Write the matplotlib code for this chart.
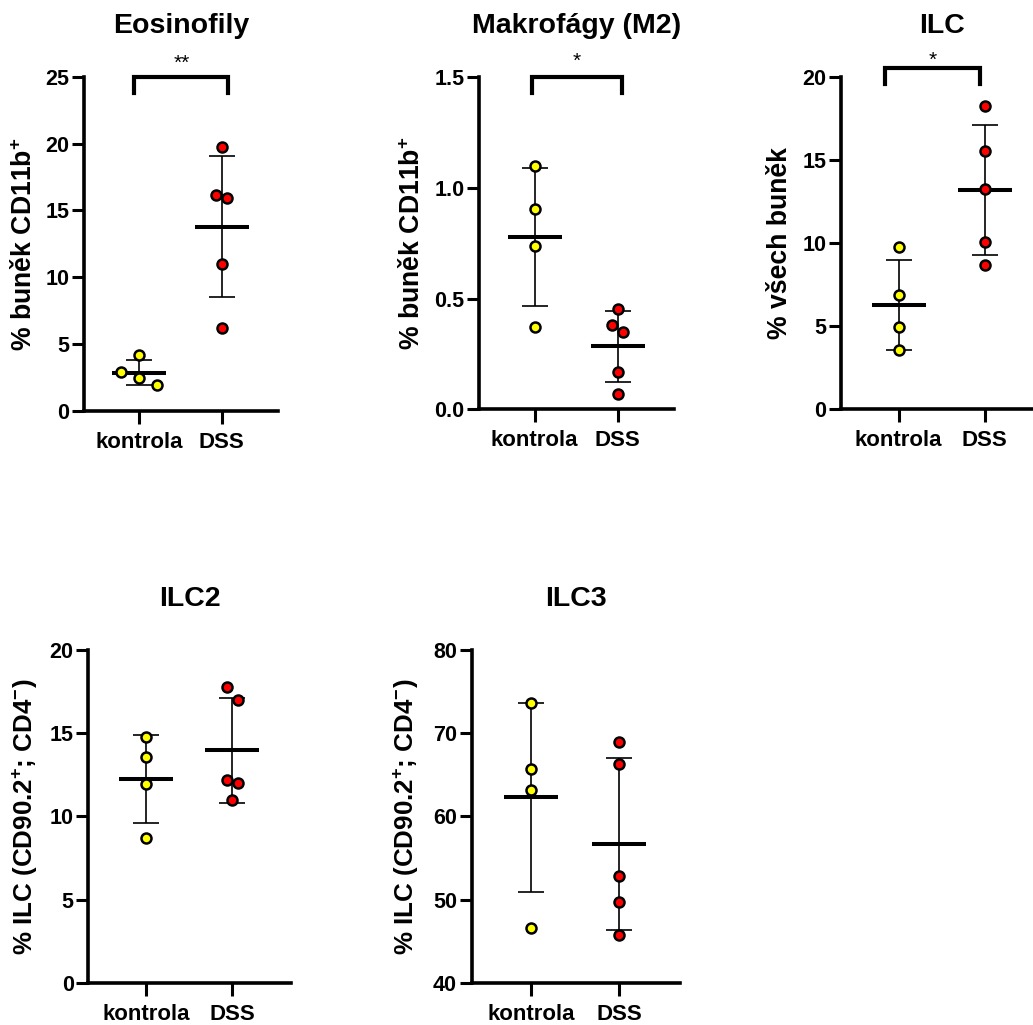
import numpy as np
import matplotlib
matplotlib.use("Agg")
import matplotlib.pyplot as plt

plt.rcParams['font.family'] = ['Liberation Sans', 'DejaVu Sans']
plt.rcParams['font.weight'] = 'bold'
plt.rcParams['mathtext.fontset'] = 'custom'
plt.rcParams['mathtext.rm'] = 'Liberation Sans:bold'
plt.rcParams['mathtext.bf'] = 'Liberation Sans:bold'
plt.rcParams['mathtext.it'] = 'Liberation Sans:bold'
plt.rcParams['mathtext.default'] = 'bf'

# ---------------- data ----------------
groups = ["kontrola", "DSS"]

eos_kontrola = [4.15, 2.87, 2.47, 1.92]
eos_dss = [19.75, 16.13, 15.96, 10.96, 6.17]

makro_kontrola = [1.098, 0.906, 0.737, 0.370]
makro_dss = [0.451, 0.381, 0.351, 0.167, 0.068]

ilc_kontrola = [9.79, 6.88, 4.93, 3.57]
ilc_dss = [18.25, 15.57, 13.26, 10.09, 8.69]

ilc2_kontrola = [14.79, 13.55, 11.94, 8.68]
ilc2_dss = [17.80, 16.99, 12.18, 11.98, 10.98]

ilc3_kontrola = [73.67, 65.69, 63.17, 46.61]
ilc3_dss = [68.98, 66.29, 52.83, 49.66, 45.73]

titles = ["Eosinofily", "Makrofágy (M2)", "ILC", "ILC2", "ILC3"]
ylabels = ["% buněk CD11b$^{+}$", "% buněk CD11b$^{+}$", "% všech buněk",
           "% ILC (CD90.2$^{+}$; CD4$^{-}$)", "% ILC (CD90.2$^{+}$; CD4$^{-}$)"]
yticks = [[0, 5, 10, 15, 20, 25], [0.0, 0.5, 1.0, 1.5], [0, 5, 10, 15, 20],
          [0, 5, 10, 15, 20], [40, 50, 60, 70, 80]]
ytick_labels = [["0", "5", "10", "15", "20", "25"], ["0.0", "0.5", "1.0", "1.5"],
                ["0", "5", "10", "15", "20"], ["0", "5", "10", "15", "20"],
                ["40", "50", "60", "70", "80"]]
significance = ["**", "*", "*", None, None]

# ---------------- styling / layout ----------------
W, H = 1033, 1025
# axes boxes in pixels: left, right, top, bottom
boxes = [(84, 278, 77, 410.7), (479, 674, 77, 409.3), (841, 1043, 77, 409.3),
         (88.3, 291, 650, 982.7), (471.7, 679.5, 650, 982.7)]
label_x_px = [59, 66, 61, 63, 65]
label_sizes = [19.2, 19.2, 19.2, 18.7, 18.7]
xlim = (-0.67, 1.68)
# horizontal jitter of individual points (style only)
jitter = [
    ([0, -0.22, 0, 0.22], [0, -0.07, 0.06, 0, 0]),
    ([0, 0, 0, 0], [0, -0.07, 0.06, 0, 0]),
    ([0, 0, 0, 0], [0, 0, 0, 0, 0]),
    ([0, 0, 0, 0], [-0.065, 0.06, -0.065, 0.06, 0]),
    ([0, 0, 0, 0], [0, 0, 0, 0, 0]),
]
# bracket geometry: x-left, x-right, y-top, y-bottom (data), star offset (pt)
brackets = [(-0.06, 1.08, 25.0, 23.8, 3), (-0.03, 1.05, 1.5, 1.43, 4.7),
            (-0.16, 0.95, 20.56, 19.6, -1.8), None, None]

datasets = [(eos_kontrola, eos_dss), (makro_kontrola, makro_dss),
            (ilc_kontrola, ilc_dss), (ilc2_kontrola, ilc2_dss),
            (ilc3_kontrola, ilc3_dss)]
colors = ["#FFFF00", "#FF0000"]

fig = plt.figure(figsize=(W / 100, H / 100), dpi=100)

for i in range(5):
    l, r, t, b = boxes[i]
    ax = fig.add_axes([l / W, 1 - b / H, (r - l) / W, (b - t) / H])
    ax.set_xlim(*xlim)
    ax.set_ylim(yticks[i][0], yticks[i][-1])
    for side in ("top", "right"):
        ax.spines[side].set_visible(False)
    for side in ("left", "bottom"):
        ax.spines[side].set_linewidth(2.6)
    ax.spines["bottom"].set_clip_on(False)

    for g, vals in enumerate(datasets[i]):
        vals = np.asarray(vals)
        m = vals.mean()
        sd = vals.std(ddof=1)
        ax.errorbar([g], [m], yerr=[sd], fmt='none', ecolor='black',
                    elinewidth=1.2, capsize=9.5, capthick=1.2, zorder=2)
        ax.plot([g], [m], marker='_', ms=39, mew=2.9, color='black', zorder=3)
        xs = g + np.asarray(jitter[i][g])
        ax.plot(xs, vals, 'o', ms=7.2, mfc=colors[g], mec='black', mew=1.8,
                zorder=4, clip_on=False)

    ax.set_xticks([0, 1])
    ax.set_xticklabels(groups, fontsize=16, fontweight='bold')
    ax.set_yticks(yticks[i])
    ax.set_yticklabels(ytick_labels[i], fontsize=15.5, fontweight='bold')
    ax.tick_params(axis='y', length=8.5, width=2.2, pad=2)
    ax.tick_params(axis='x', length=9, width=2.2, pad=6)
    ax.set_ylabel(ylabels[i], fontsize=label_sizes[i], fontweight='bold',
                  va='center')
    ax.yaxis.set_label_coords(-label_x_px[i] / (r - l), 0.5)

    ax.text(0.5, 1 + 51 / (b - t), titles[i], transform=ax.transAxes,
            ha='center', va='center', fontsize=20.5, fontweight='bold')

    if brackets[i] is not None:
        x0, x1, ytop, ybot, off = brackets[i]
        ax.plot([x0, x0, x1, x1], [ybot, ytop, ytop, ybot], color='black',
                lw=3, clip_on=False, solid_joinstyle='miter', zorder=5)
        ax.annotate(significance[i], xy=((x0 + x1) / 2, ytop),
                    xytext=(0, off), textcoords='offset points',
                    ha='center', va='bottom', fontsize=15, fontweight='normal',
                    annotation_clip=False)

fig.savefig("out.png", dpi=100)
